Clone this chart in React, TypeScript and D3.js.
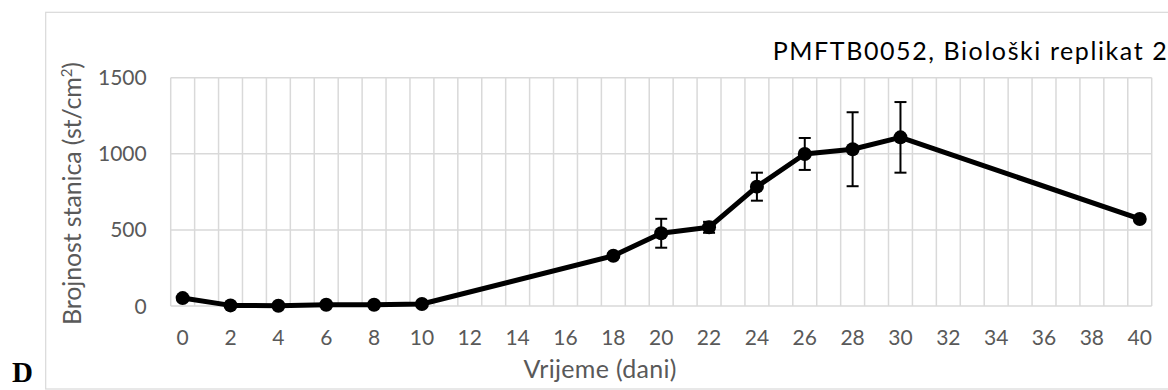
import React from "react";
import * as d3 from "d3";

const days = Array.from({ length: 41 }, (_, i) => i);
const xTickLabels = [0, 2, 4, 6, 8, 10, 12, 14, 16, 18, 20, 22, 24, 26, 28, 30, 32, 34, 36, 38, 40];
const yTicks = [0, 500, 1000, 1500];
const pointDays = [0, 2, 4, 6, 8, 10, 18, 20, 22, 24, 26, 28, 30, 40];
const cellCounts = [52, 4, 2, 8, 8, 13, 330, 478, 517, 784, 999, 1030, 1108, 572];
const errors = [0, 0, 0, 0, 0, 0, 15, 95, 36, 92, 105, 243, 232, 0];

const title = "PMFTB0052, Biološki replikat 2";
const xTitle = "Vrijeme (dani)";
const panelLetter = "D";

export default function App() {
  const W = 1168;
  const H = 390;
  const plot = { left: 170.7, right: 1151.7, top: 77.7, bottom: 306 };
  const x = d3.scaleBand<number>().domain(days).range([plot.left, plot.right]).padding(0);
  const y = d3.scaleLinear().domain([0, 1500]).range([plot.bottom, plot.top]);
  const cx = (d: number) => (x(d) as number) + x.bandwidth() / 2;
  const pts = pointDays.map((d, i) => ({ d, v: cellCounts[i], e: errors[i] }));
  const line = d3
    .line<{ d: number; v: number }>()
    .x((p) => cx(p.d))
    .y((p) => y(p.v));
  const boundaries = days.map((d) => x(d) as number).concat([plot.right]);
  const font = "Lato, 'Open Sans', sans-serif";
  const grid = "#d9d9d9";

  return (
    <svg
      width={W}
      height={H}
      style={{ position: "absolute", left: 0, top: 0, background: "#fff" }}
    >
      <rect x={45.7} y={12.3} width={2000} height={376.7} fill="#fff" stroke={grid} strokeWidth={1.2} />
      {yTicks.map((t) => (
        <line key={"h" + t} x1={plot.left} x2={plot.right} y1={y(t)} y2={y(t)} stroke={grid} strokeWidth={1.5} />
      ))}
      {boundaries.map((bx, i) => (
        <line key={"v" + i} x1={bx} x2={bx} y1={plot.top} y2={plot.bottom} stroke={grid} strokeWidth={1.5} />
      ))}
      {yTicks.map((t) => (
        <text
          key={"yl" + t}
          x={146.7}
          y={y(t)}
          dy="0.36em"
          textAnchor="end"
          fontFamily={font}
          fontSize={21}
          fill="#595959"
        >
          {t}
        </text>
      ))}
      {xTickLabels.map((t) => (
        <text
          key={"xl" + t}
          x={cx(t)}
          y={345}
          textAnchor="middle"
          fontFamily={font}
          fontSize={21}
          fill="#595959"
        >
          {t}
        </text>
      ))}
      {pts
        .filter((p) => p.e > 0)
        .map((p) => {
          const px = cx(p.d);
          const y1 = y(p.v + p.e);
          const y2 = y(p.v - p.e);
          return (
            <g key={"e" + p.d} stroke="#000" strokeWidth={2}>
              <line x1={px} x2={px} y1={y1} y2={y2} />
              <line x1={px - 6} x2={px + 6} y1={y1} y2={y1} />
              <line x1={px - 6} x2={px + 6} y1={y2} y2={y2} />
            </g>
          );
        })}
      <path d={line(pts) || ""} fill="none" stroke="#000" strokeWidth={5} strokeLinejoin="round" />
      {pts.map((p) => (
        <circle key={"c" + p.d} cx={cx(p.d)} cy={y(p.v)} r={7} fill="#000" />
      ))}
      <text x={772.7} y={60} fontFamily={font} fontSize={25} fill="#000" textLength={394}>
        {title}
      </text>
      <text
        x={600}
        y={378.3}
        textAnchor="middle"
        fontFamily={font}
        fontSize={25}
        fill="#595959"
        textLength={153}
      >
        {xTitle}
      </text>
      <text
        transform="translate(81,193.5) rotate(-90)"
        textAnchor="middle"
        fontFamily={font}
        fontSize={25}
        fill="#595959"
        textLength={263}
      >
        Brojnost stanica (st/cm
        <tspan baselineShift="super" fontSize={15}>2</tspan>)
      </text>
      <text x={12} y={382} fontFamily="'Liberation Serif', 'Times New Roman', serif" fontWeight="bold" fontSize={29} fill="#000">
        {panelLetter}
      </text>
    </svg>
  );
}
